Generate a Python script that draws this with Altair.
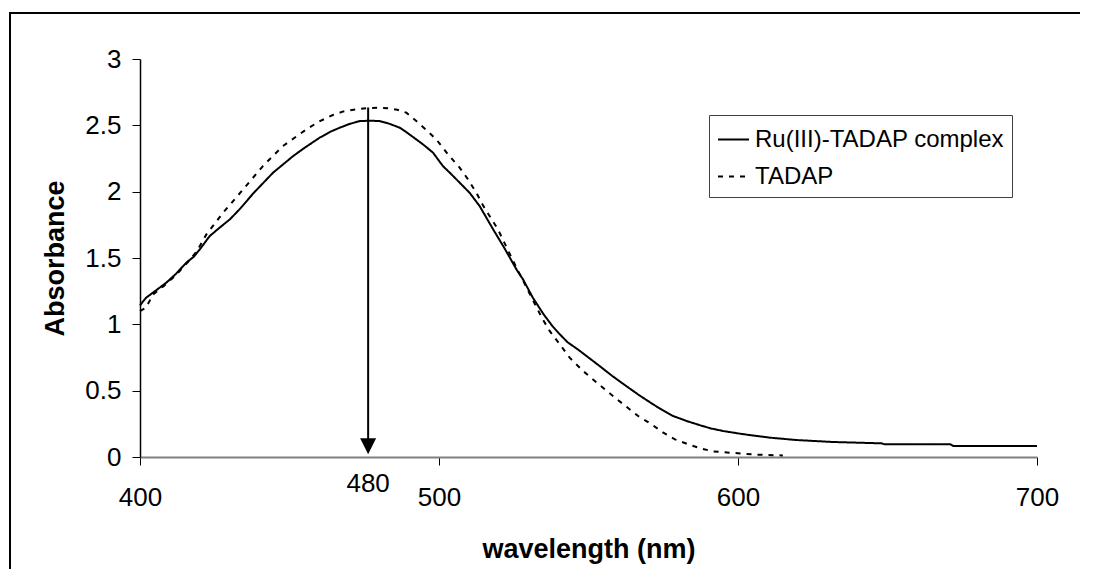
import altair as alt
import pandas as pd

# Ru(III)-TADAP complex (solid)
complex_nm = [400, 402, 405, 408.8, 412, 415.5, 418, 420, 423.3, 426.7, 430, 433.3, 438, 444.5,
              451.2, 455, 460.1, 464, 466.8, 470, 473.5, 477, 480.2, 483, 486.9, 489, 492.4, 495,
              498, 501.3, 503.6, 506.9, 510.3, 513.6, 518.1, 522, 525.9, 528.1, 531.4, 535, 538, 540.4,
              543, 546.5, 553.7, 558, 562.6, 567, 571.6, 575, 578.3, 583, 587.2, 591, 595, 600,
              604, 610.6, 619.5, 631.8, 648, 649, 671, 672, 700]
complex_abs = [1.143, 1.20, 1.25, 1.314, 1.38, 1.465, 1.51, 1.565, 1.665, 1.73, 1.79, 1.867, 1.99, 2.143,
               2.268, 2.33, 2.407, 2.455, 2.482, 2.51, 2.532, 2.535, 2.532, 2.515, 2.482, 2.45, 2.394, 2.35,
               2.294, 2.193, 2.143, 2.068, 1.99, 1.891, 1.716, 1.57, 1.414, 1.339, 1.20, 1.075, 0.985, 0.925,
               0.865, 0.81, 0.686, 0.61, 0.535, 0.465, 0.397, 0.35, 0.309, 0.27, 0.24, 0.215, 0.196, 0.178,
               0.165, 0.146, 0.128, 0.113, 0.103, 0.096, 0.096, 0.083, 0.083]

# TADAP (dashed)
tadap_nm = [400, 402, 404.4, 408, 412, 416, 419, 422.2, 427.8, 434.5, 441.1, 447.8, 455.6, 460,
            464.5, 468, 472.4, 476, 479.5, 483, 486, 489.1, 492.4, 496, 499.1, 503, 506.9, 509.7,
            512.5, 514.7, 519.7, 525.9, 530.3, 534.5, 537, 540.4, 543.7, 548.2, 552.1, 558.8,
            566.6, 571.1, 575, 578.9, 583.3, 587.8, 591.7, 600, 606, 612.9, 615]
tadap_abs = [1.10, 1.126, 1.226, 1.29, 1.37, 1.47, 1.55, 1.678, 1.842, 2.017, 2.193, 2.344, 2.469, 2.53,
             2.578, 2.605, 2.62, 2.63, 2.633, 2.628, 2.618, 2.595, 2.532, 2.46, 2.394, 2.281, 2.181, 2.093,
             1.992, 1.897, 1.716, 1.427, 1.232, 1.045, 0.95, 0.849, 0.749, 0.648, 0.573, 0.448,
             0.309, 0.246, 0.184, 0.133, 0.096, 0.063, 0.042, 0.028, 0.018, 0.013, 0.012]

series_names = ["Ru(III)-TADAP complex", "TADAP"]
x_ticks = [400, 500, 600, 700]
y_ticks = [0, 0.5, 1, 1.5, 2, 2.5, 3]

# annotation: arrow at lambda max
arrow_nm = [476.3]
arrow_top = [2.635]
arrow_bottom = [0.1]
arrow_label = ["480"]

FONT = "Liberation Sans"

lines_df = pd.concat([
    pd.DataFrame({"nm": complex_nm, "A": complex_abs, "series": series_names[0], "order": range(len(complex_nm))}),
    pd.DataFrame({"nm": tadap_nm, "A": tadap_abs, "series": series_names[1], "order": range(len(tadap_nm))}),
])
arrow_df = pd.DataFrame({"nm": arrow_nm, "top": arrow_top, "bottom": arrow_bottom,
                         "tip": [0.02], "base": [0.0], "label": arrow_label})

xscale = alt.Scale(domain=[400, 700], nice=False)
yscale = alt.Scale(domain=[0, 3], nice=False)

xaxis = alt.Axis(values=x_ticks, title="wavelength (nm)", titleFontSize=27, titleFontWeight="bold",
                 titleBaseline="alphabetic", titleY=100, labelFontSize=26, labelPadding=19,
                 tickSize=8, domainColor="#808080", domainWidth=2, tickColor="black",
                 grid=False, labelFlush=False, labelColor="black", titleColor="black")
yaxis = alt.Axis(values=y_ticks, format="~g", title="Absorbance", titleFontSize=27, titleFontWeight="bold",
                 titleBaseline="alphabetic", titleX=-77, titleY=199, labelFontSize=26, labelPadding=11,
                 tickSize=8, domainColor="black", domainWidth=1.5, tickColor="black", grid=False,
                 labelColor="black", titleColor="black")

# outer frame: only the left and top edges are visible in the picture (thin filled bars)
frame_df = pd.DataFrame({"k": [0]})
frame_left = alt.Chart(frame_df).mark_rect(color="black", strokeWidth=0).encode(
    x=alt.value(-131), x2=alt.value(-129), y=alt.value(-47), y2=alt.value(540)
)
frame_top = alt.Chart(frame_df).mark_rect(color="black", strokeWidth=0).encode(
    x=alt.value(-131), x2=alt.value(940), y=alt.value(-47), y2=alt.value(-45)
)

lines = alt.Chart(lines_df).mark_line(color="black", strokeWidth=2).encode(
    x=alt.X("nm:Q", scale=xscale, axis=xaxis),
    y=alt.Y("A:Q", scale=yscale, axis=yaxis),
    order="order:Q",
    strokeDash=alt.StrokeDash("series:N",
                              scale=alt.Scale(domain=series_names, range=[[1, 0], [5, 6]]),
                              legend=alt.Legend(title=None, orient="none", legendX=569, legendY=56,
                                                symbolType="stroke", symbolSize=961,
                                                symbolStrokeColor="black", symbolStrokeWidth=2,
                                                labelFontSize=24, labelFont=FONT, labelColor="black",
                                                labelOffset=5, rowPadding=8, padding=8,
                                                strokeColor="#404040", labelLimit=400)),
)

rule = alt.Chart(arrow_df).mark_rule(color="black", strokeWidth=2).encode(
    x="nm:Q", y="top:Q", y2="bottom:Q"
)
head = alt.Chart(arrow_df).mark_point(shape="M-1,-2L1,-2L0,0Z", size=256, filled=True,
                                      color="black", opacity=1).encode(
    x="nm:Q", y="tip:Q"
)
label = alt.Chart(arrow_df).mark_text(font=FONT, fontSize=26, color="black", baseline="alphabetic",
                                      dy=35).encode(
    x="nm:Q", y="base:Q", text="label:N"
)

chart = alt.layer(frame_left, frame_top, lines, rule, head, label).properties(
    width=897, height=398,
    autosize=alt.AutoSizeParams(type="none"),
    padding={"left": 132, "top": 51, "right": 48, "bottom": 112},
).configure(font=FONT).configure_view(stroke=None, strokeWidth=0).configure_axis(
    labelFont=FONT, titleFont=FONT
)

chart.save("out.html", embed_options={"renderer": "svg", "actions": False})
